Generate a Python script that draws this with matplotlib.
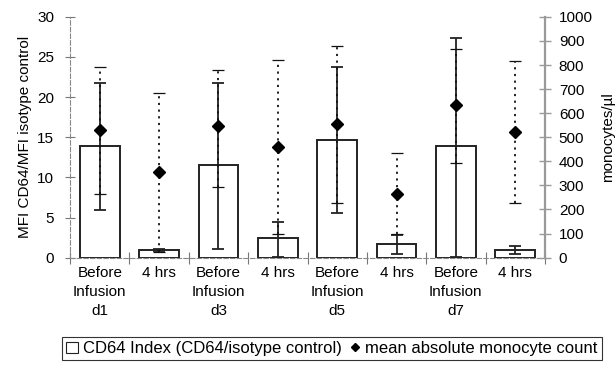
import numpy as np
import matplotlib
matplotlib.use('Agg')
import matplotlib.pyplot as plt
from matplotlib.patches import Patch
from matplotlib.lines import Line2D

plt.rcParams['font.family'] = ['Liberation Sans', 'DejaVu Sans']

labels = ['Before\nInfusion\nd1', '4 hrs', 'Before\nInfusion\nd3', '4 hrs',
          'Before\nInfusion\nd5', '4 hrs', 'Before\nInfusion\nd7', '4 hrs']

# CD64 index (left axis), bars with solid error bars
cd64 = [13.9, 1.0, 11.5, 2.4, 14.6, 1.7, 13.9, 1.0]
cd64_lo = [5.9, 0.8, 1.1, 0.1, 5.5, 0.4, 0.1, 0.5]
cd64_hi = [21.8, 1.1, 21.8, 4.5, 23.8, 2.8, 27.4, 1.5]

# mean absolute monocyte count (right axis), diamonds with dotted error bars
mono = [530, 355, 545, 460, 555, 265, 633, 523]
mono_lo = [265, 25, 295, 100, 225, 100, 393, 225]
mono_hi = [790, 685, 780, 822, 880, 435, 865, 818]

x = np.arange(len(labels))
cd64 = np.array(cd64)
mono = np.array(mono)
err1 = [cd64 - np.array(cd64_lo), np.array(cd64_hi) - cd64]
err2 = [mono - np.array(mono_lo), np.array(mono_hi) - mono]

fig = plt.figure(figsize=(6.15, 3.75), dpi=100)
ax = fig.add_axes([0.114, 0.313, 0.772, 0.642])

ax.bar(x, cd64, width=0.67, color='white', edgecolor='#222222', linewidth=1.4, zorder=2)
ax.errorbar(x, cd64, yerr=err1, fmt='none', ecolor='#222222', elinewidth=1.3,
            capsize=4.5, capthick=1.3, zorder=3)

ax.set_xlim(-0.5, len(labels) - 0.5)
ax.set_ylim(0, 30)
ax.set_yticks(range(0, 31, 5))
ax.set_xticks(x)
ax.set_xticklabels(labels, fontsize=11, linespacing=1.45)
ax.set_xticks(np.arange(-0.5, len(labels), 1.0), minor=True)
ax.tick_params(axis='x', which='major', length=0, pad=6)
ax.tick_params(axis='x', which='minor', direction='inout', length=9, color='#777777', width=0.8)
ax.tick_params(axis='y', direction='inout', length=7, color='#777777', width=0.8,
               labelsize=11, pad=8)
ax.set_ylabel('MFI CD64/MFI isotype control', fontsize=11)

ax.spines['top'].set_visible(False)
ax.spines['right'].set_visible(False)
ax.spines['left'].set_color('#888888')
ax.spines['left'].set_linewidth(0.8)
ax.spines['left'].set_linestyle((0, (4, 2)))
ax.spines['bottom'].set_color('#888888')
ax.spines['bottom'].set_linewidth(0.8)
ax.spines['bottom'].set_linestyle((0, (4, 2)))

ax2 = ax.twinx()
eb = ax2.errorbar(x, mono, yerr=err2, fmt='none', ecolor='#111111', elinewidth=1.3,
                  capsize=4, capthick=0.9, zorder=4)
eb[2][0].set_linestyle((0, (1.2, 2.5)))
ax2.plot(x, mono, 'D', color='black', markersize=6, zorder=5)
ax2.set_ylim(0, 1000)
ax2.set_yticks(range(0, 1001, 100))
ax2.tick_params(axis='y', direction='inout', length=8, color='#999999', width=1.0,
                labelsize=11, pad=6)
ax2.set_ylabel('monocytes/\u00b5l', fontsize=11, labelpad=6)
for s in ['top', 'left', 'bottom']:
    ax2.spines[s].set_visible(False)
ax2.spines['right'].set_color('#999999')
ax2.spines['right'].set_linewidth(1.6)

handles = [Patch(facecolor='white', edgecolor='#222222', linewidth=0.8),
           Line2D([], [], marker='D', color='black', linestyle='none', markersize=4.5)]
leg = fig.legend(handles, ['CD64 Index (CD64/isotype control)', 'mean absolute monocyte count'],
                 loc='center', bbox_to_anchor=(0.54, 0.07), ncol=2, fontsize=12,
                 frameon=True, fancybox=False, edgecolor='black', handlelength=0.7,
                 handleheight=0.7, handletextpad=0.3, columnspacing=0.4,
                 borderpad=0.25, borderaxespad=0)
leg.get_frame().set_linewidth(0.8)

fig.savefig('out.png', dpi=100)
